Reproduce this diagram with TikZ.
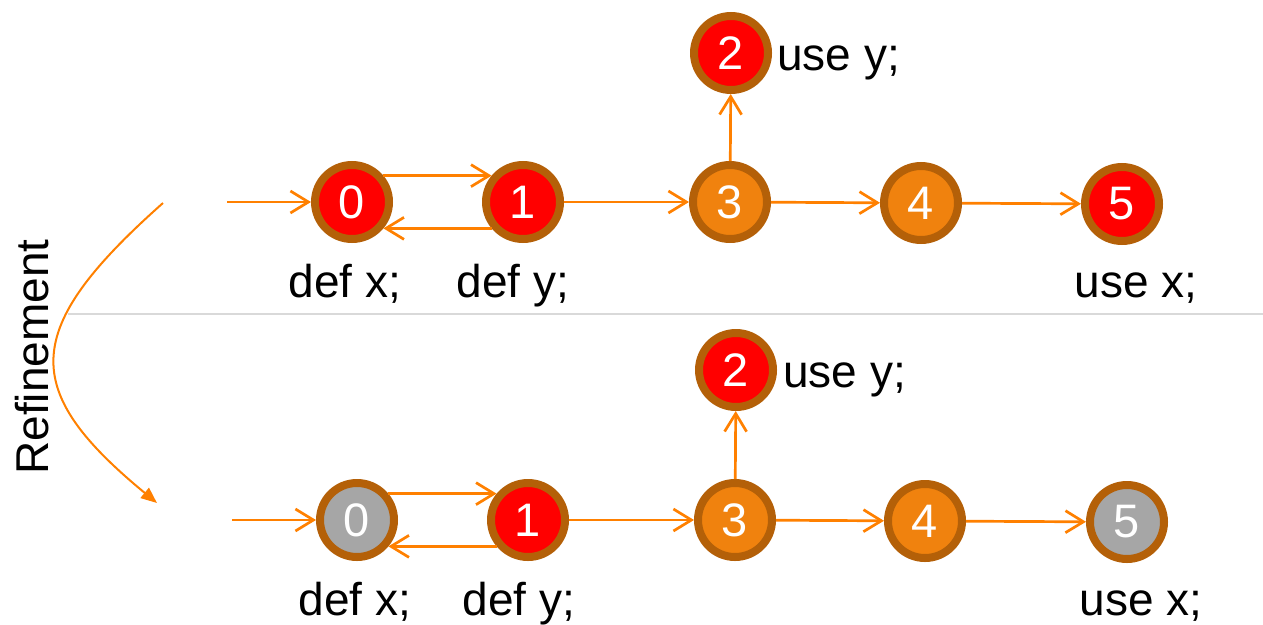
\documentclass[tikz,border=0pt]{standalone}
\usepackage{fontspec}
\setmainfont{Liberation Sans}
\usepackage{tikz}
\usetikzlibrary{arrows.meta}
\definecolor{vtxborder}{RGB}{180, 96, 8}
\definecolor{livered}{RGB}{255, 0, 0}
\definecolor{midorange}{RGB}{240, 130, 14}
\definecolor{deadgray}{RGB}{166, 166, 166}
\definecolor{floworange}{RGB}{255, 128, 0}
\definecolor{sepgray}{RGB}{217, 217, 217}

\begin{document}
\begin{tikzpicture}[x=1pt, y=-1pt,
    vtx/.style={circle, draw=vtxborder, line width=8pt, minimum size=74pt,
      inner sep=0pt, text=white, font=\fontsize{47}{47}\selectfont},
    live/.style={vtx, fill=livered},   % blocos vermelhos
    mid/.style={vtx, fill=midorange},  % blocos laranja
    dead/.style={vtx, fill=deadgray},  % blocos removidos
    lbl/.style={anchor=base, inner sep=0pt, font=\fontsize{46}{46}\selectfont},
    flow/.style={draw=floworange, line width=2.7pt,
      -{Straight Barb[length=18pt, width=22pt]}},
  ]
  \useasboundingbox (0,0) rectangle (1263,624);

  % linha de separacao
  \draw[sepgray, line width=1.5pt] (68,314) -- (1263,314);

  % grafo original
  \coordinate (tin) at (227,202);
  \node[live] (t0) at (352,202) {0};
  \node[live] (t1) at (523,202) {1};
  \node[live] (t2) at (731,53) {2};
  \node[mid]  (t3) at (730,202) {3};
  \node[mid]  (t4) at (921,203) {4};
  \node[live] (t5) at (1122,204) {5};
  \node[lbl] (tdx) at (345,297) {def x;};
  \node[lbl] (tdy) at (513,297) {def y;};
  \node[lbl] (tux) at (1136,297) {use x;};
  \node[lbl, anchor=base west] (tuy) at (777,70) {use y;};

  \draw[flow] (tin) -- (t0);
  \draw[flow] (t0.40) -- (t1.140);
  \draw[flow] (t1.-140) -- (t0.-40);
  \draw[flow] (t1) -- (t3);
  \draw[flow] (t3) -- (t2);
  \draw[flow] (t3) -- (t4);
  \draw[flow] (t4) -- (t5);

  % grafo refinado
  \coordinate (bin) at (232,520);
  \node[dead] (b0) at (357,520) {0};
  \node[live] (b1) at (528,520) {1};
  \node[live] (b2) at (736,370) {2};
  \node[mid]  (b3) at (735,520) {3};
  \node[mid]  (b4) at (925,521) {4};
  \node[dead] (b5) at (1127,522) {5};
  \node[lbl] (bdx) at (355,615) {def x;};
  \node[lbl] (bdy) at (519,615) {def y;};
  \node[lbl] (bux) at (1141,615) {use x;};
  \node[lbl, anchor=base west] (buy) at (783,387) {use y;};

  \draw[flow] (bin) -- (b0);
  \draw[flow] (b0.40) -- (b1.140);
  \draw[flow] (b1.-140) -- (b0.-40);
  \draw[flow] (b1) -- (b3);
  \draw[flow] (b3) -- (b2);
  \draw[flow] (b3) -- (b4);
  \draw[flow] (b4) -- (b5);

  % seta de refinamento
  \coordinate (rfrom) at (163,203);
  \coordinate (rto) at (157,503);
  \draw[floworange, line width=2pt, -{Triangle[length=16pt, width=13pt]}]
    (rfrom) .. controls (20,330) and (20,390) .. (rto);
  \node[rotate=90, font=\fontsize{46}{46}\selectfont] (rlbl) at (32,357) {Refinement};
\end{tikzpicture}
\end{document}
